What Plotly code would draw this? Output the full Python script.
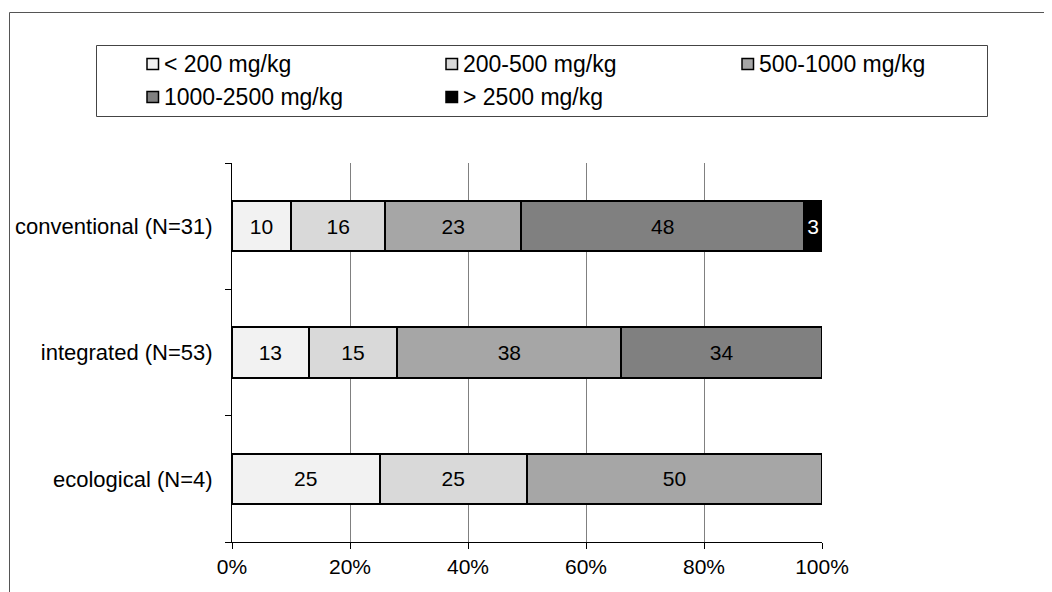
import plotly.graph_objects as go

categories = ["conventional (N=31)", "integrated (N=53)", "ecological (N=4)"]
series_names = ["< 200 mg/kg", "200-500 mg/kg", "500-1000 mg/kg", "1000-2500 mg/kg", "> 2500 mg/kg"]
values_lt200 = [10, 13, 25]
values_200_500 = [16, 15, 25]
values_500_1000 = [23, 38, 50]
values_1000_2500 = [48, 34, None]
values_gt2500 = [3, None, None]
series_values = [values_lt200, values_200_500, values_500_1000, values_1000_2500, values_gt2500]
colors = ["#f2f2f2", "#d9d9d9", "#a6a6a6", "#808080", "#000000"]
text_colors = ["black", "black", "black", "black", "white"]
x_ticks = [0, 20, 40, 60, 80, 100]
x_tick_labels = ["0%", "20%", "40%", "60%", "80%", "100%"]

# page body has an 8px margin; work in window pixel coordinates
OFF = 8
W, H = 1052 - OFF, 592 - OFF
PL, PR, PT, PB = 232, 822, 163, 542  # plot area in window pixels
L, T = PL - OFF, PT - OFF
R = W - (PR - OFF)
B = H - (PB - OFF)
PW, PH = PR - PL, PB - PT

def px(x):
    return (x - PL) / PW

def py(y):
    return (PB - y) / PH

FONT = "Liberation Sans, Arial, sans-serif"
FS = 21
YFS = 22
LEG_FS = 23

fig = go.Figure()
for name, vals, col, tcol in zip(series_names, series_values, colors, text_colors):
    fig.add_trace(go.Bar(
        y=categories, x=vals, name=name, orientation="h",
        marker=dict(color=col, line=dict(color="black", width=2)),
        text=[("" if v is None else str(v)) for v in vals],
        textposition="inside", insidetextanchor="middle",
        constraintext="none",
        textfont=dict(color=tcol, size=FS, family=FONT),
        width=0.4, showlegend=False,
    ))

shapes = []
annotations = []
# outer chart frame
shapes.append(dict(type="rect", xref="paper", yref="paper",
                   x0=px(9.5), x1=px(1070), y0=py(12.5), y1=py(620),
                   line=dict(color="#555555", width=1), fillcolor="rgba(0,0,0,0)", layer="below"))
# legend box
shapes.append(dict(type="rect", xref="paper", yref="paper",
                   x0=px(96.5), x1=px(987.5), y0=py(45.5), y1=py(116.5),
                   line=dict(color="#444444", width=1), fillcolor="white", layer="above"))
leg_pos = [(146, 64), (445, 64), (741, 64), (146, 97), (445, 97)]
for (lx, ly), name, col in zip(leg_pos, series_names, colors):
    shapes.append(dict(type="rect", xref="paper", yref="paper",
                       x0=px(lx + 1), x1=px(lx + 12.5), y0=py(ly - 5.5), y1=py(ly + 5.5),
                       line=dict(color="black", width=1.5), fillcolor=col, layer="above"))
    annotations.append(dict(xref="paper", yref="paper", x=px(lx + 16), y=py(ly),
                            text=name, showarrow=False, xanchor="left", yanchor="middle",
                            font=dict(size=LEG_FS, color="black", family=FONT)))

fig.update_layout(
    barmode="stack",
    width=W, height=H,
    margin=dict(l=L, r=R, t=T, b=B, pad=0, autoexpand=False),
    paper_bgcolor="white", plot_bgcolor="white",
    font=dict(family=FONT, size=FS, color="black"),
    shapes=shapes, annotations=annotations,
    xaxis=dict(range=[0, 100], tickvals=x_ticks, ticktext=x_tick_labels,
               showgrid=True, gridcolor="#808080", gridwidth=1,
               showline=True, linecolor="black", linewidth=1,
               ticks="outside", ticklen=6, tickcolor="black",
               zeroline=False, tickfont=dict(size=FS), automargin=False),
    yaxis=dict(categoryorder="array", categoryarray=categories[::-1],
               showline=True, linecolor="black", linewidth=1,
               ticks="outside", ticklen=6, tickcolor="black", tickson="boundaries",
               showgrid=False, zeroline=False, tickfont=dict(size=YFS),
               ticklabelstandoff=14, automargin=False),
)

fig.write_html("out.html")
